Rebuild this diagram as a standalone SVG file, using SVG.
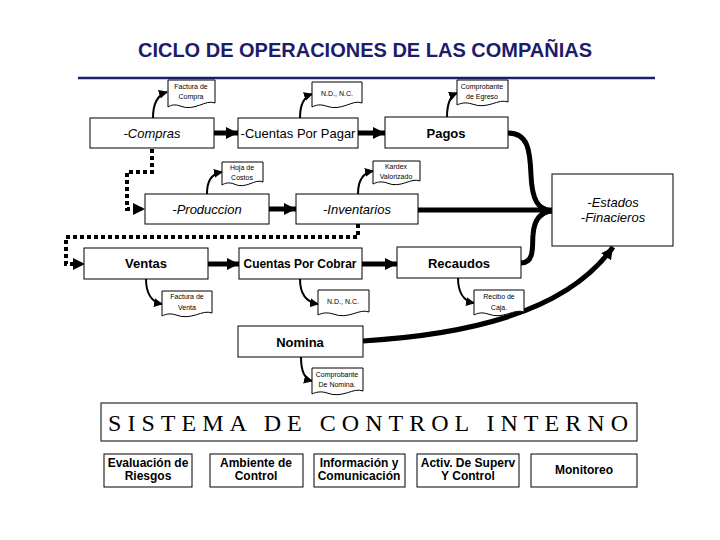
<svg xmlns="http://www.w3.org/2000/svg" width="720" height="540" viewBox="0 0 720 540">
<defs>
<marker id="ah" markerUnits="userSpaceOnUse" markerWidth="14" markerHeight="14" refX="12" refY="7" orient="auto">
<path d="M0,1 L12,7 L0,13 Z" fill="#000"/>
</marker>
<marker id="ahs" markerUnits="userSpaceOnUse" markerWidth="10" markerHeight="10" refX="8" refY="5" orient="auto">
<path d="M0,0.5 L9,5 L0,9.5 Z" fill="#000"/>
</marker>
<style>
.box{fill:#fff;stroke:#000;stroke-width:1}
.doc{fill:#fff;stroke:#000;stroke-width:1}
.t{font-family:"Liberation Sans",Arial,sans-serif;font-size:13px;text-anchor:middle;fill:#000}
.i{font-style:italic}
.b{font-weight:bold}
.d{font-family:"Liberation Sans",Arial,sans-serif;font-size:7px;text-anchor:middle;fill:#000}
.thick{fill:none;stroke:#000;stroke-width:5}
.dot{fill:none;stroke:#000;stroke-width:4;stroke-dasharray:4,3}
.thin{fill:none;stroke:#000;stroke-width:2}
.bt{font-family:"Liberation Sans",Arial,sans-serif;font-size:12px;font-weight:bold;text-anchor:middle;fill:#000}
</style>
</defs>
<rect width="720" height="540" fill="#fff"/>
<text x="365" y="57" font-family="Liberation Sans,Arial,sans-serif" font-size="20" font-weight="bold" fill="#1c1c6b" text-anchor="middle">CICLO DE OPERACIONES DE LAS COMPAÑIAS</text>
<line x1="78" y1="78" x2="655" y2="78" stroke="#1c1c6b" stroke-width="2.5"/>

<g id="connectors">
<path class="thick" d="M214,133 H238" marker-end="url(#ah)"/>
<path class="thick" d="M358,133 H385" marker-end="url(#ah)"/>
<path class="thick" d="M269,209 H296" marker-end="url(#ah)"/>
<path class="thick" d="M418,210 H552" marker-end="url(#ah)"/>
<path class="thick" d="M208,264 H239" marker-end="url(#ah)"/>
<path class="thick" d="M362,264 H397" marker-end="url(#ah)"/>
<path class="thick" d="M508,133 C528,133 530,150 531,175 C532,200 538,210 552,211" marker-end="url(#ah)"/>
<path class="thick" d="M521,263 C535,263 532,245 533,235 C534,220 540,212 552,211" marker-end="url(#ah)"/>
<path class="thick" d="M363,341 C460,335 565,315 613,247" marker-end="url(#ah)"/>
<path class="dot" d="M152,149 V172 H127 V209 H142"/>
<path d="M133,209 H145" stroke="none" fill="none" marker-end="url(#ah)"/>
<path class="dot" d="M358,224 V237 H66 V264 H80"/>
<path d="M72,264 H85" stroke="none" fill="none" marker-end="url(#ah)"/>
<path class="thin" d="M153,118 C153,104 157,95 167,92" marker-end="url(#ahs)"/>
<path class="thin" d="M300,118 C300,105 303,97 312,94" marker-end="url(#ahs)"/>
<path class="thin" d="M447,117 C447,104 450,96 457,93" marker-end="url(#ahs)"/>
<path class="thin" d="M207,194 C207,181 211,174 222,172" marker-end="url(#ahs)"/>
<path class="thin" d="M358,194 C358,181 362,173 373,171" marker-end="url(#ahs)"/>
<path class="thin" d="M146,279 C146,292 151,302 162,304" marker-end="url(#ahs)"/>
<path class="thin" d="M300,279 C300,292 305,302 318,304" marker-end="url(#ahs)"/>
<path class="thin" d="M458,278 C458,291 463,301 474,303" marker-end="url(#ahs)"/>
<path class="thin" d="M301,357 C301,370 304,379 312,381" marker-end="url(#ahs)"/>
</g>

<g id="compras"><rect class="box" x="90" y="118" width="124" height="30"/><text class="t i" x="152" y="138">-Compras</text></g>
<g id="cuentas-por-pagar"><rect class="box" x="238" y="118" width="120" height="30"/><text class="t" x="298" y="138">-Cuentas Por Pagar</text></g>
<g id="pagos"><rect class="box" x="385" y="117" width="123" height="31"/><text class="t b" x="446" y="138">Pagos</text></g>
<g id="produccion"><rect class="box" x="145" y="194" width="124" height="30"/><text class="t i" x="207" y="214">-Produccion</text></g>
<g id="inventarios"><rect class="box" x="296" y="194" width="122" height="30"/><text class="t i" x="357" y="214">-Inventarios</text></g>
<g id="estados"><rect class="box" x="552" y="174" width="121" height="72"/><text class="t i" x="613" y="207">-Estados</text><text class="t i" x="613" y="222">-Finacieros</text></g>
<g id="ventas"><rect class="box" x="84" y="248" width="124" height="31"/><text class="t b" x="146" y="268">Ventas</text></g>
<g id="cuentas-por-cobrar"><rect class="box" x="239" y="248" width="123" height="31"/><text class="t b" x="300" y="268" textLength="113" lengthAdjust="spacingAndGlyphs">Cuentas Por Cobrar</text></g>
<g id="recaudos"><rect class="box" x="397" y="247" width="124" height="31"/><text class="t b" x="459" y="268">Recaudos</text></g>
<g id="nomina"><rect class="box" x="238" y="326" width="125" height="31"/><text class="t b" x="300" y="347">Nomina</text></g>

<g id="doc-factura-compra"><path class="doc" d="M168,80 H215 V103 C205,99 195,112 180,106 C175,104 171,105 168,107 Z"/><text class="d" x="191" y="89">Factura de</text><text class="d" x="191" y="99">Compra</text></g>
<g id="doc-nd-nc-1"><path class="doc" d="M312,82 H362 V103 C352,99 342,112 326,106 C320,104 316,105 312,107 Z"/><text class="d" x="337" y="96">N.D., N.C.</text></g>
<g id="doc-comprobante-egreso"><path class="doc" d="M457,80 H508 V102 C498,98 488,110 472,104 C466,102 461,103 457,105 Z"/><text class="d" x="482" y="89">Comprobante</text><text class="d" x="482" y="99">de Egreso</text></g>
<g id="doc-hoja-costos"><path class="doc" d="M222,162 H263 V182 C255,178 246,190 234,184 C229,182 225,183 222,185 Z"/><text class="d" x="242" y="170">Hoja de</text><text class="d" x="242" y="180">Costos</text></g>
<g id="doc-kardex"><path class="doc" d="M373,161 H420 V181 C411,177 401,189 387,183 C381,181 377,182 373,184 Z"/><text class="d" x="396" y="169">Kardex</text><text class="d" x="396" y="179">Valorizado</text></g>
<g id="doc-factura-venta"><path class="doc" d="M162,291 H212 V313 C202,309 192,321 176,315 C170,313 166,314 162,316 Z"/><text class="d" x="187" y="299">Factura de</text><text class="d" x="187" y="310">Venta</text></g>
<g id="doc-nd-nc-2"><path class="doc" d="M318,290 H369 V312 C359,308 349,320 333,314 C327,312 322,313 318,315 Z"/><text class="d" x="343" y="304">N.D., N.C.</text></g>
<g id="doc-recibo-caja"><path class="doc" d="M474,290 H524 V312 C514,308 504,320 488,314 C482,312 478,313 474,315 Z"/><text class="d" x="499" y="299">Recibo de</text><text class="d" x="499" y="310">Caja.</text></g>
<g id="doc-comprobante-nomina"><path class="doc" d="M312,368 H363 V391 C353,387 343,399 327,393 C321,391 316,392 312,394 Z"/><text class="d" x="337" y="377">Comprobante</text><text class="d" x="337" y="387">De Nomina.</text></g>

<g id="sistema"><rect class="box" x="101" y="403" width="536" height="38"/><text x="108" y="431" font-family="Liberation Serif,Times New Roman,serif" font-size="24" textLength="520" lengthAdjust="spacing" fill="#000">SISTEMA DE CONTROL INTERNO</text></g>
<g id="evaluacion"><rect class="box" x="104" y="454" width="88" height="33"/><text class="bt" x="148" y="467">Evaluación de</text><text class="bt" x="148" y="480">Riesgos</text></g>
<g id="ambiente"><rect class="box" x="210" y="454" width="93" height="33"/><text class="bt" x="256" y="467">Ambiente de</text><text class="bt" x="256" y="480">Control</text></g>
<g id="informacion"><rect class="box" x="314" y="454" width="91" height="33"/><text class="bt" x="359" y="467">Información y</text><text class="bt" x="359" y="480">Comunicación</text></g>
<g id="activ"><rect class="box" x="417" y="454" width="102" height="33"/><text class="bt" x="468" y="467">Activ.  De Superv</text><text class="bt" x="468" y="480">Y Control</text></g>
<g id="monitoreo"><rect class="box" x="531" y="454" width="106" height="33"/><text class="bt" x="584" y="474">Monitoreo</text></g>
</svg>
